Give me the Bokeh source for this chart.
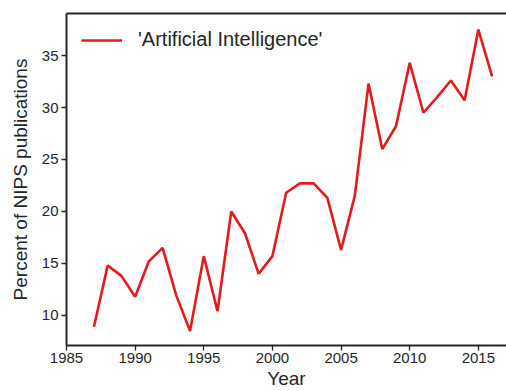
from bokeh.plotting import figure
from bokeh.models import ColumnDataSource, LinearAxis, Range1d, FixedTicker, Legend, LegendItem
from bokeh.embed import file_html
from bokeh.resources import INLINE

years = list(range(1987, 2017))
ai_percent = [8.9, 14.8, 13.8, 11.8, 15.2, 16.5, 11.9, 8.5, 15.7, 10.4,
              20.0, 17.9, 14.0, 15.7, 21.8, 22.7, 22.7, 21.3, 16.3, 21.5,
              32.3, 26.0, 28.2, 34.3, 29.5, 31.0, 32.6, 30.7, 37.5, 33.0]
x_ticks = [1985, 1990, 1995, 2000, 2005, 2010, 2015]
y_ticks = [10, 15, 20, 25, 30, 35]
series_label = "'Artificial Intelligence'"

FONT = "Liberation Sans"
DARK = "#262626"

src = ColumnDataSource(dict(year=years, pct=ai_percent))

p = figure(width=506, height=391, output_backend="svg", toolbar_location=None,
           x_range=Range1d(1985, 2017.05), y_range=Range1d(7.1, 39.05),
           min_border_left=66, min_border_right=0, min_border_top=13, min_border_bottom=46)
p.outline_line_color = None
p.grid.visible = False
p.background_fill_color = "white"

r = p.line("year", "pct", source=src, line_color="#e41a1c", line_width=2.6)

for ax in (p.xaxis[0], p.yaxis[0]):
    ax.axis_line_color = DARK
    ax.axis_line_width = 2
    ax.major_tick_line_color = DARK
    ax.major_tick_line_width = 1.3
    ax.major_tick_out = 5
    ax.major_tick_in = 0
    ax.minor_tick_line_color = None
    ax.major_label_text_font = FONT
    ax.major_label_text_font_size = "15px"
    ax.major_label_text_color = DARK
    ax.axis_label_text_font = FONT
    ax.axis_label_text_font_size = "19px"
    ax.axis_label_text_font_style = "normal"
    ax.axis_label_text_color = DARK

p.xaxis[0].ticker = FixedTicker(ticks=x_ticks)
p.yaxis[0].ticker = FixedTicker(ticks=y_ticks)
p.xaxis[0].axis_label = "Year"
p.yaxis[0].axis_label = "Percent of NIPS publications"
p.xaxis[0].major_label_standoff = 2
p.xaxis[0].axis_label_standoff = 2
p.yaxis[0].major_label_standoff = 3
p.yaxis[0].axis_label_standoff = 8

top = LinearAxis(ticker=FixedTicker(ticks=[]), major_label_text_font_size="0px",
                 axis_line_color=DARK, axis_line_width=2,
                 major_tick_line_color=None, minor_tick_line_color=None)
p.add_layout(top, "above")

legend = Legend(items=[LegendItem(label=series_label, renderers=[r])],
                location="top_left")
legend.border_line_color = None
legend.background_fill_alpha = 0
legend.label_text_font = FONT
legend.label_text_font_size = "20px"
legend.label_text_color = DARK
legend.glyph_width = 41
legend.label_standoff = 16
legend.margin = 15
legend.padding = 10
p.add_layout(legend)

open("out.html", "w").write(file_html(p, INLINE))
